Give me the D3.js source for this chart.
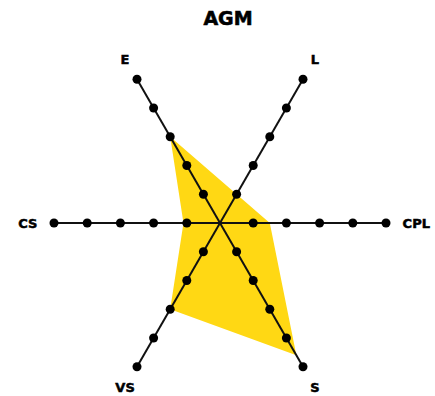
<!DOCTYPE html>
<html>
<head>
<meta charset="utf-8">
<script src="https://cdn.jsdelivr.net/npm/d3@7"></script>
<style>
  body { margin: 0; background: #fff; }
  text { font-family: 'DejaVu Sans', 'Liberation Sans', sans-serif; font-weight: bold; }
</style>
</head>
<body>
<div id="chart"></div>
<script>
'use strict'

// axes in drawing order, starting upper-left and going clockwise
var axes = ['E', 'L', 'CPL', 'S', 'VS', 'CS']
var values = [3, 1, 1.5, 4.6, 3, 1.1]
var levels = [1, 2, 3, 4, 5]
var title = 'AGM'

var width = 435
var height = 396
var cx = 220
var cy = 223
var radius = 166

var r = d3.scaleLinear().domain([0, 5]).range([0, radius])
var angle = d3
  .scalePoint()
  .domain(axes)
  .range([-120, 180])

function point(axis, v) {
  var a = (angle(axis) * Math.PI) / 180
  return [cx + r(v) * Math.cos(a), cy + r(v) * Math.sin(a)]
}

var svg = d3
  .select('#chart')
  .append('svg')
  .attr('width', width)
  .attr('height', height)

svg
  .append('text')
  .attr('x', 228)
  .attr('y', 25)
  .attr('text-anchor', 'middle')
  .attr('font-size', '19px')
  .attr('fill', '#000')
  .attr('stroke', '#000')
  .attr('stroke-width', 0.6)
  .text(title)

// filled area
svg
  .append('path')
  .datum(axes.map(function(a, i) { return point(a, values[i]) }))
  .attr('d', d3.line().curve(d3.curveLinearClosed))
  .attr('fill', '#FFD814')
  .attr('stroke', 'none')

// axis lines
svg
  .selectAll('line.axis')
  .data(axes)
  .enter()
  .append('line')
  .attr('class', 'axis')
  .attr('x1', cx)
  .attr('y1', cy)
  .attr('x2', function(d) { return point(d, 5)[0] })
  .attr('y2', function(d) { return point(d, 5)[1] })
  .attr('stroke', '#111')
  .attr('stroke-width', 2)

// level dots
var dots = []
axes.forEach(function(a) {
  levels.forEach(function(l) {
    dots.push(point(a, l))
  })
})
svg
  .selectAll('circle.dot')
  .data(dots)
  .enter()
  .append('circle')
  .attr('class', 'dot')
  .attr('cx', function(d) { return d[0] })
  .attr('cy', function(d) { return d[1] })
  .attr('r', 4.5)
  .attr('fill', '#000')

// axis labels
svg
  .selectAll('text.label')
  .data(axes)
  .enter()
  .append('text')
  .attr('class', 'label')
  .attr('font-size', '13px')
  .attr('fill', '#000')
  .attr('stroke', '#000')
  .attr('stroke-width', 0.5)
  .attr('text-anchor', function(d) {
    var a = angle(d)
    if (a === 0) return 'start'
    if (a === 180) return 'end'
    return 'middle'
  })
  .attr('x', function(d) {
    var a = angle(d)
    if (a === 0 || a === 180) return point(d, 5.5)[0]
    return point(d, 5.72)[0]
  })
  .attr('y', function(d) {
    var a = angle(d)
    if (a === 0 || a === 180) return cy + 5
    return point(d, 5.72)[1] + 5
  })
  .text(function(d) { return d })
</script>
</body>
</html>
